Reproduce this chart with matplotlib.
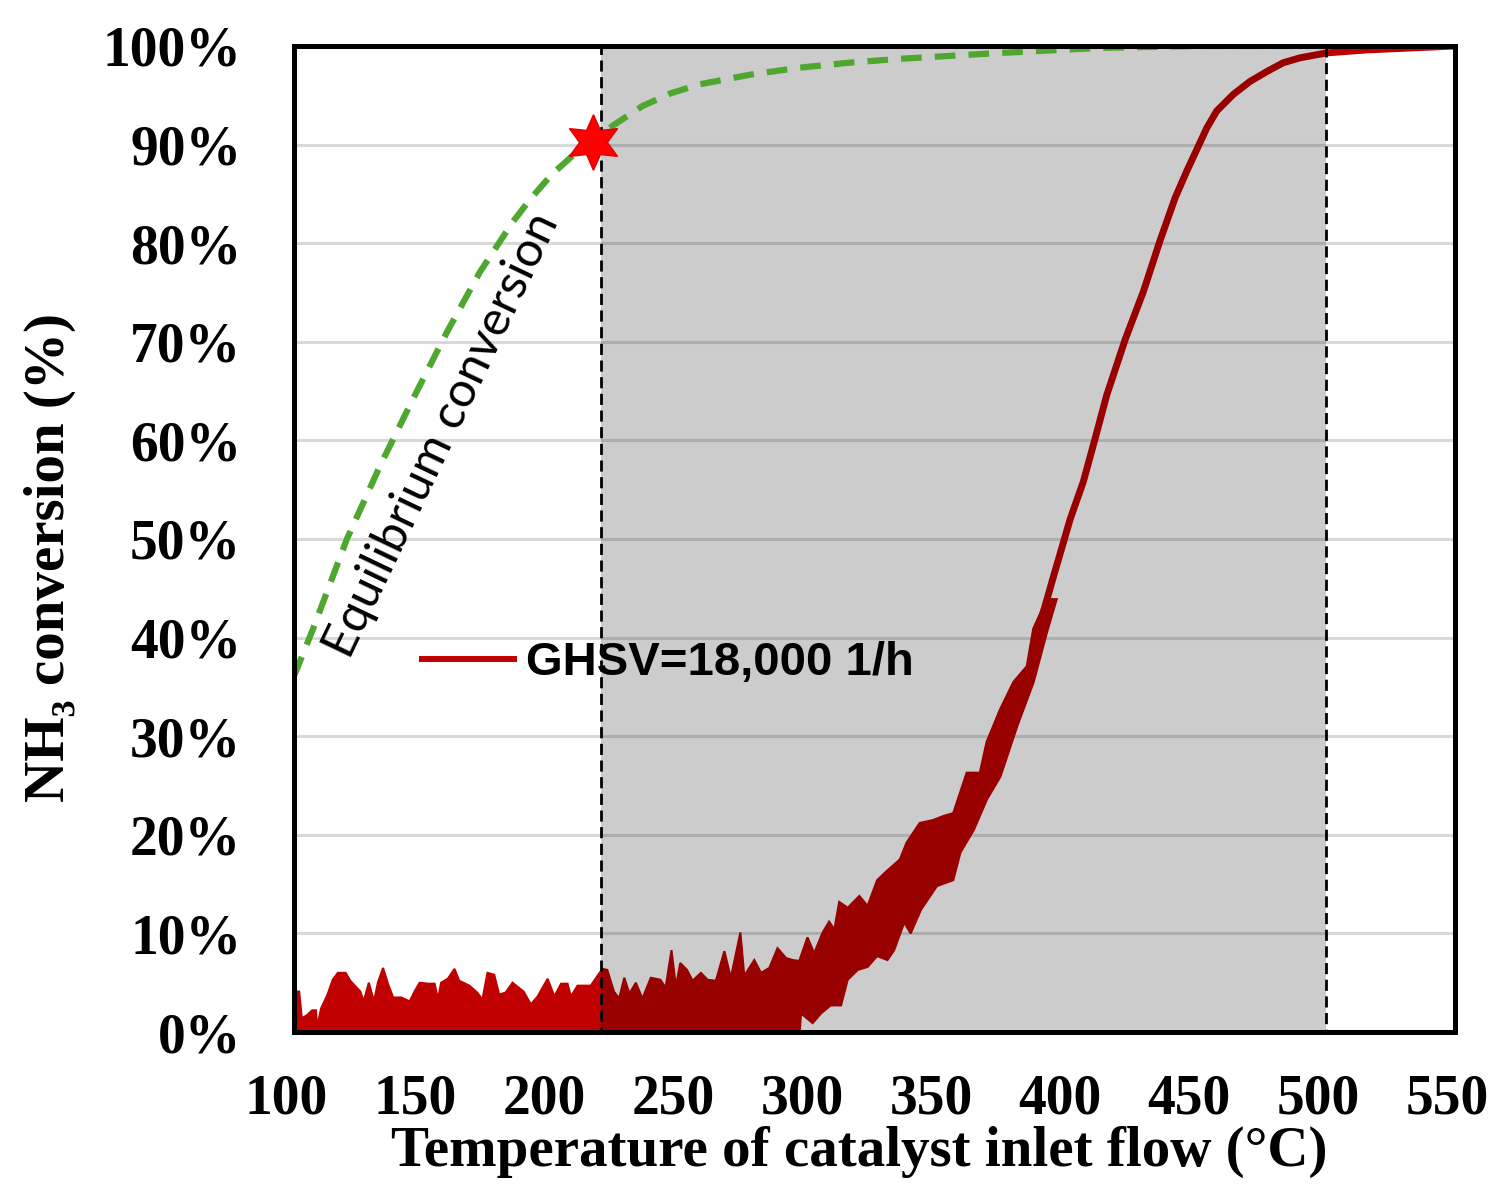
import matplotlib
matplotlib.use('Agg')
import matplotlib.pyplot as plt
import matplotlib.transforms as mtransforms
from matplotlib.patches import Rectangle
from matplotlib.ticker import FuncFormatter
import numpy as np

# equilibrium conversion (green dashed)
eq_temp = [100, 107.4, 120.5, 133.3, 146.1, 159.3, 172.1, 184.9, 192, 200, 208.1, 216, 224,
           235, 246, 257, 277, 296, 315, 335, 374, 412, 451, 500, 550]
eq_conv = [36.1, 40.9, 50.0, 57.4, 64.2, 71.0, 77.1, 82.2, 84.6, 87.0, 88.9, 90.4, 92.0,
           93.9, 95.2, 96.1, 97.1, 97.8, 98.3, 98.7, 99.3, 99.8, 100, 100, 100]

# measured conversion, noisy band: upper envelope
up_temp = [100.0, 100.4, 102, 103, 105, 107, 108.5, 109, 110.5, 113, 115, 117, 120, 121.8,
           125.7, 127, 129, 131, 132.5, 134.5, 136.4, 138.4, 141.6, 144.8, 146.7, 148.7,
           152, 154.5, 155.8, 157, 159.6, 162.2, 164, 168, 171, 173, 175, 177.6, 179.5,
           182, 184.7, 186.6, 189, 191.8, 194.4, 198.3, 200.9, 203.5, 206, 207.3, 209.9,
           215, 219.5, 221.4, 224, 226, 228, 230, 232.5, 235, 238.3, 242, 244, 246.3, 248,
           249.7, 252.3, 254.5, 257.7, 260.3, 263.5, 266.8, 269.3, 273, 274.5, 278.4, 281,
           284.2, 287.4, 290.7, 293.3, 295.8, 299, 301.6, 304.9, 307.4, 309.4, 311.3,
           314.6, 319.1, 322.3, 326, 329.6, 334.8, 337.4, 342.5, 347.7, 351.6, 355.5,
           360.7, 365.8, 368.4, 373.6, 378.8, 384, 386.5, 391.7]
up_conv = [0, 4.1, 4.1, 1.4, 1.7, 2.2, 2.2, 0.5, 2.4, 3.8, 5.3, 6.0, 6.0, 5.2,
           4.1, 3.1, 5.0, 3.1, 5.0, 6.5, 4.9, 3.5, 3.5, 3.1, 4.1, 5.0,
           4.9, 4.9, 3.3, 5.0, 5.4, 6.4, 5.2, 4.7, 4.0, 3.3, 6.0, 5.8, 3.8,
           4.0, 5.0, 4.6, 4.1, 2.8, 3.6, 5.4, 3.6, 4.9, 4.9, 3.6, 4.7,
           4.7, 6.4, 6.3, 4.1, 3.4, 5.5, 3.9, 5.0, 3.4, 5.5, 5.3, 4.5, 8.3, 4.6,
           7.0, 6.3, 5.2, 6.0, 5.3, 5.2, 8.2, 5.5, 10.1, 5.7, 7.3, 6.0,
           6.5, 8.5, 7.5, 7.3, 7.2, 9.6, 8.0, 10.1, 11.2, 10.4, 13.2,
           12.6, 13.8, 12.8, 15.4, 16.3, 17.5, 19.2, 21.2, 21.5, 21.9, 22.2,
           26.3, 26.3, 29.4, 32.7, 35.5, 37.1, 40.9, 43.9]

# lower envelope
lo_temp = [100, 296, 296.5, 301, 304.3, 308, 312, 314.6, 318.5, 322.3, 326, 330, 332.6,
           336.5, 339, 343, 349.2, 355.5, 358.3, 363.5, 368.6, 373.8, 380.3, 386.7,
           391.8, 395.6]
lo_conv = [0, 0, 1.9, 0.9, 1.9, 2.7, 2.7, 5.3, 6.3, 6.6, 7.7, 7.3, 8.3,
           11.1, 10.0, 12.4, 14.8, 15.4, 18.2, 20.5, 23.6, 25.9, 31.0, 35.5,
           40.5, 43.9]

# smooth part of the curve above ~390 C
hi_temp = [386.5, 393.7, 400.8, 405.9, 410.5, 415, 422.1, 429.2, 435.7, 441.5, 446,
           453.8, 457.6, 464.1, 470.5, 477, 483.4, 489.9, 500.3, 515.8, 541.6, 550]
hi_conv = [39.0, 45.6, 52.0, 55.8, 60.2, 64.6, 70.2, 75.1, 80.3, 84.6, 87.3,
           91.7, 93.4, 95.1, 96.4, 97.4, 98.3, 98.8, 99.3, 99.6, 99.9, 100]

window = [219, 500]
star_pt = [216, 90.3]
yticks = list(range(0, 101, 10))
xticks = list(range(100, 551, 50))

red = '#C00000'
green = '#4EA72E'
serif = ['Liberation Serif', 'DejaVu Serif']

fig = plt.figure(figsize=(14.91, 11.85), dpi=100)
ax = fig.add_axes([0.1972, 0.1291, 0.7787, 0.8321])

ax.set_xlim(100, 550)
ax.set_ylim(0, 100)
ax.set_xticks(xticks)
ax.set_yticks(yticks)
ax.yaxis.set_major_formatter(FuncFormatter(lambda v, p: f'{int(v)}%'))
ax.tick_params(length=0)
ax.tick_params(axis='y', pad=38)
ax.tick_params(axis='x', pad=30)
shift = mtransforms.ScaledTranslation(-8 / 100, 0, fig.dpi_scale_trans)
for lab in ax.get_xticklabels() + ax.get_yticklabels():
    lab.set_fontfamily(serif)
    lab.set_fontweight('bold')
    lab.set_fontsize(40)
for lab in ax.get_xticklabels():
    lab.set_transform(lab.get_transform() + shift)

ax.grid(axis='y', color='#D9D9D9', linewidth=2.2, zorder=0)
ax.set_axisbelow(True)
for sp in ax.spines.values():
    sp.set_linewidth(3.6)
    sp.set_color('black')
    sp.set_zorder(10)

# measured band
poly_x = np.concatenate([up_temp, lo_temp[::-1]])
poly_y = np.concatenate([up_conv, lo_conv[::-1]])
ax.fill(poly_x, poly_y, color=red, linewidth=1.5, zorder=2)
ax.plot(hi_temp, hi_conv, color=red, linewidth=5, solid_capstyle='round',
        solid_joinstyle='round', zorder=2)

# grey window overlay + dashed border
ax.add_patch(Rectangle((window[0], 0), window[1] - window[0], 100,
                       facecolor='black', alpha=0.2, edgecolor='none', zorder=3))
ax.add_patch(Rectangle((window[0], 0), window[1] - window[0], 100,
                       facecolor='none', edgecolor='black', linewidth=2,
                       linestyle=(0, (4, 2)), zorder=5))

# equilibrium line
ax.plot(eq_temp, eq_conv, color=green, linewidth=4.5, linestyle=(0, (3.3, 2.1)),
        zorder=4)
ax.plot([star_pt[0]], [star_pt[1]], marker=(6, 1, 0), markersize=40,
        color='#FF0000', markeredgecolor='#E00000', zorder=6, clip_on=False)

ax.text(157.4, 60.5, 'Equilibrium conversion', rotation=64.5, rotation_mode='anchor',
        ha='center', va='center', fontsize=35, family=['Lato', 'DejaVu Sans'], zorder=6)

# legend handle
ax.plot([], [], color=red, linewidth=4.3, label='GHSV=18,000 1/h')
ax.legend(loc='center left', bbox_to_anchor=(0.110, 0.374), frameon=False,
          borderpad=0, borderaxespad=0, handlelength=1.95, handletextpad=0.25,
          prop={'family': ['Liberation Sans', 'DejaVu Sans'], 'weight': 'bold', 'size': 34})

fig.text(50 / 1491, 1 - 557 / 1185, 'NH\u2083 conversion (%)', rotation=90,
         ha='center', va='center', fontsize=41, fontweight='bold', family=serif)
fig.text(859 / 1491, 1 - 1152 / 1185, 'Temperature of catalyst inlet flow (\u00b0C)',
         ha='center', va='center', fontsize=41, fontweight='bold', family=serif)

fig.savefig('out.png', dpi=100)
